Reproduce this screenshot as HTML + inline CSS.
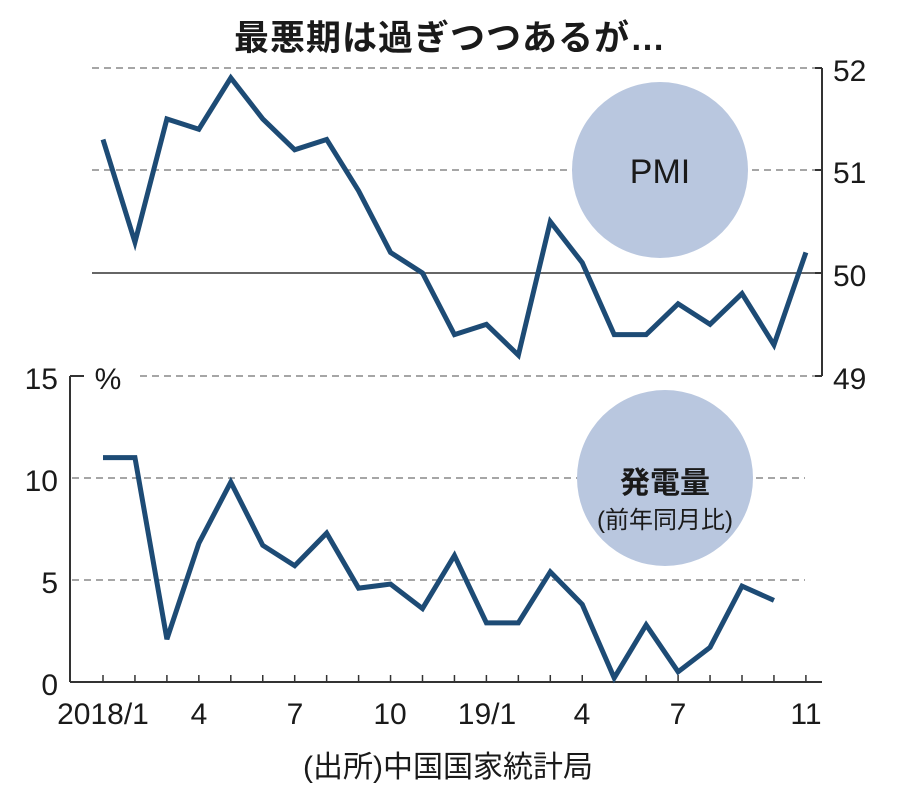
<!DOCTYPE html>
<html><head><meta charset="utf-8"><style>
body{margin:0;background:#fff}
svg{display:block}
text{font-family:"Liberation Sans","Noto Sans CJK JP",sans-serif;fill:#1a1a1a}
</style></head><body>
<svg width="900" height="796" viewBox="0 0 900 796">
<text x="450" y="50" font-size="35" font-weight="bold" text-anchor="middle" letter-spacing="1">最悪期は過ぎつつあるが…</text>
<g stroke="#888" stroke-width="1.5" stroke-dasharray="7,5" fill="none">
<line x1="92" y1="68" x2="822" y2="68"/>
<line x1="92" y1="170" x2="822" y2="170"/>
<line x1="140" y1="376" x2="822" y2="376"/>
<line x1="72" y1="478" x2="805" y2="478"/>
<line x1="72" y1="580" x2="805" y2="580"/>
</g>
<circle cx="660" cy="170" r="88" fill="#b9c7df"/>
<text x="660" y="183" font-size="34" text-anchor="middle">PMI</text>
<circle cx="665" cy="478" r="88" fill="#b9c7df"/>
<line x1="92" y1="273" x2="822" y2="273" stroke="#333" stroke-width="1.5"/>
<text x="665" y="493" font-size="30" font-weight="bold" text-anchor="middle">発電量</text>
<text x="665" y="528" font-size="24" text-anchor="middle">(前年同月比)</text>
<g stroke="#333" stroke-width="2" fill="none">
<line x1="822" y1="68" x2="822" y2="376"/>
<line x1="815" y1="68" x2="822" y2="68"/><line x1="815" y1="170" x2="822" y2="170"/>
<line x1="815" y1="273" x2="822" y2="273"/><line x1="815" y1="376" x2="822" y2="376"/>
<line x1="70" y1="376" x2="70" y2="682"/>
<line x1="70" y1="682" x2="822" y2="682"/>
<line x1="70" y1="376" x2="84" y2="376"/>
</g>
<g stroke="#333" stroke-width="1.5" id="ticks"></g>
<g font-size="30">
<text x="833" y="81">52</text><text x="833" y="183">51</text><text x="833" y="286">50</text><text x="833" y="389">49</text>
<text x="58" y="389" text-anchor="end">15</text><text x="58" y="491" text-anchor="end">10</text>
<text x="58" y="593" text-anchor="end">5</text><text x="58" y="695" text-anchor="end">0</text>
<text x="108" y="389" text-anchor="middle">%</text>
<text x="103" y="724" text-anchor="middle">2018/1</text><text x="199" y="724" text-anchor="middle">4</text>
<text x="295" y="724" text-anchor="middle">7</text><text x="390" y="724" text-anchor="middle">10</text>
<text x="487" y="724" text-anchor="middle">19/1</text><text x="582" y="724" text-anchor="middle">4</text>
<text x="678" y="724" text-anchor="middle">7</text><text x="806" y="724" text-anchor="middle">11</text>
</g>
<text x="448" y="777" font-size="30" text-anchor="middle">(出所)中国国家統計局</text>
<polyline id="pmi" fill="none" stroke="#1d4b75" stroke-width="5" stroke-linejoin="miter"/>
<polyline id="pw" fill="none" stroke="#1d4b75" stroke-width="5" stroke-linejoin="miter"/>
</svg>
<script>
var X=i=>103+31.95*i;
var p=[51.3,50.3,51.5,51.4,51.9,51.5,51.2,51.3,50.8,50.2,50.0,49.4,49.5,49.2,50.5,50.1,49.4,49.4,49.7,49.5,49.8,49.3,50.2];
document.getElementById('pmi').setAttribute('points',p.map((v,i)=>X(i)+','+(273-(v-50)*102.7)).join(' '));
var w=[11,11,2.1,6.8,9.8,6.7,5.7,7.3,4.6,4.8,3.6,6.2,2.9,2.9,5.4,3.8,0.2,2.8,0.5,1.7,4.7,4.0];
document.getElementById('pw').setAttribute('points',w.map((v,i)=>X(i)+','+(682-v*20.4)).join(' '));
var t='';for(var i=0;i<23;i++)t+='<line x1="'+X(i)+'" y1="675" x2="'+X(i)+'" y2="682"/>';
document.getElementById('ticks').innerHTML=t;
</script>
</body></html>
